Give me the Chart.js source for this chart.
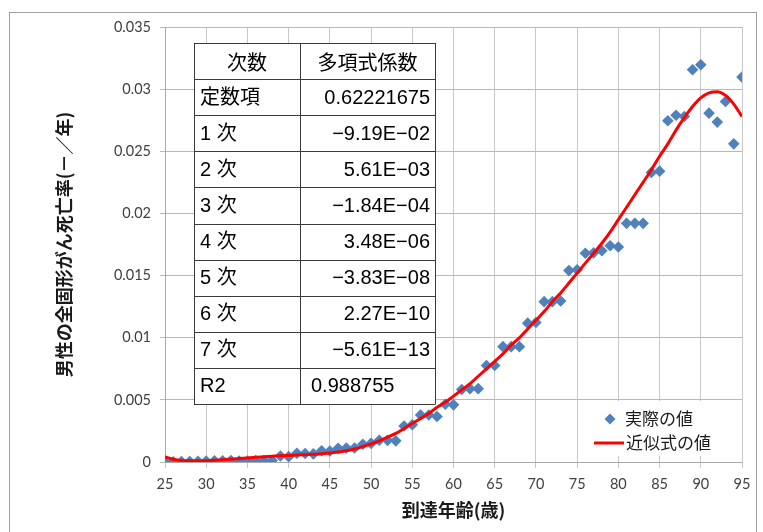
<!DOCTYPE html>
<html>
<head>
<meta charset="utf-8">
<script src="https://cdn.jsdelivr.net/npm/chart.js@4"></script>
<style>
  html, body { margin: 0; padding: 0; background: #ffffff; }
  #wrap { width: 763px; height: 532px; }
</style>
</head>
<body>
<div id="wrap"><canvas id="c" width="763" height="532"></canvas></div>
<script>
// 到達年齢 (歳)
const ages = [25, 26, 27, 28, 29, 30, 31, 32, 33, 34, 35, 36, 37, 38, 39, 40,
  41, 42, 43, 44, 45, 46, 47, 48, 49, 50, 51, 52, 53, 54, 55, 56, 57, 58, 59, 60,
  61, 62, 63, 64, 65, 66, 67, 68, 69, 70, 71, 72, 73, 74, 75, 76, 77, 78, 79, 80,
  81, 82, 83, 84, 85, 86, 87, 88, 89, 90, 91, 92, 93, 94, 95];

// 実際の値: 男性の全固形がん死亡率 (－/年)
const actualRates = [0.00002, 0.00002, 0.00003, 0.00004, 0.00005, 0.00007, 0.0001, 0.0001,
  0.00012, 0.00008, 0.00008, 0.00011, 0.00012, 0.00012, 0.00048, 0.00043,
  0.0007, 0.00068, 0.00065, 0.0009, 0.00089, 0.0011, 0.00113, 0.00113, 0.00143, 0.0015,
  0.00175, 0.00174, 0.0017, 0.0029, 0.003, 0.00378, 0.00378, 0.00366, 0.00465, 0.0046,
  0.00583, 0.0059, 0.0059, 0.00777, 0.00777, 0.00928, 0.00928, 0.00928, 0.01117, 0.01122,
  0.0129, 0.0129, 0.01296, 0.0154, 0.01546, 0.0168, 0.01683, 0.0170, 0.0174, 0.0173,
  0.0192, 0.0192, 0.0192, 0.0233, 0.0234, 0.02746, 0.0279, 0.0278, 0.03156, 0.03196,
  0.02807, 0.02735, 0.0290, 0.0256, 0.03097];

// 近似式の値 (7次多項式)
const fittedRates = [0.0004, 0.00022, 0.00012, 0.0001, 0.0001, 0.00011, 0.00014, 0.00018,
  0.00023, 0.00028, 0.00033, 0.00038, 0.00042, 0.00046, 0.0005, 0.00053,
  0.00056, 0.00059, 0.00062, 0.00067, 0.00072, 0.0008, 0.0009, 0.00105, 0.00125, 0.00145,
  0.0017, 0.002, 0.0023, 0.0027, 0.0031, 0.0035, 0.0039, 0.0044, 0.0048, 0.0053,
  0.0058, 0.0063, 0.0069, 0.0075, 0.0081, 0.0087, 0.0094, 0.0100, 0.0107, 0.0114,
  0.0121, 0.0129, 0.0136, 0.0144, 0.0152, 0.0160, 0.0168, 0.0176, 0.0185, 0.0195,
  0.0205, 0.0215, 0.0225, 0.0235, 0.0246, 0.0256, 0.0267, 0.0277, 0.0286, 0.0293,
  0.0297, 0.0298, 0.0295, 0.0288, 0.0278];

const xTickValues = [25, 30, 35, 40, 45, 50, 55, 60, 65, 70, 75, 80, 85, 90, 95];
const yTickValues = [0, 0.005, 0.01, 0.015, 0.02, 0.025, 0.03, 0.035];
const yTickLabels = ['0', '0.005', '0.01', '0.015', '0.02', '0.025', '0.03', '0.035'];

// 係数表
const tableHeader = ['次数', '多項式係数'];
const termLabels = ['定数項', '1 次', '2 次', '3 次', '4 次', '5 次', '6 次', '7 次'];
const coefficientTexts = ['0.62221675', '−9.19E−02', '5.61E−03', '−1.84E−04',
  '3.48E−06', '−3.83E−08', '2.27E−10', '−5.61E−13'];
const r2Label = 'R2';
const r2Text = '0.988755';

const CJK = "'Noto Sans CJK JP', sans-serif";
const NUM = "'Liberation Sans', 'Noto Sans CJK JP', sans-serif";

// 外枠
const framePlugin = {
  id: 'frame',
  afterDraw(chart) {
    const ctx = chart.ctx;
    ctx.save();
    ctx.strokeStyle = '#a0a0a0';
    ctx.lineWidth = 1;
    ctx.strokeRect(9.5, 12.5, 747, 530);
    ctx.restore();
  }
};

// 係数表
const tablePlugin = {
  id: 'coefTable',
  afterDraw(chart) {
    const ctx = chart.ctx;
    const left = 194, mid = 300, right = 435, top = 43, rowH = 36.1;
    const rows = 2 + termLabels.length;
    const bottom = top + rows * rowH;
    ctx.save();
    ctx.fillStyle = '#ffffff';
    ctx.fillRect(left, top, right - left, bottom - top);
    ctx.strokeStyle = '#3a3a3a';
    ctx.lineWidth = 1;
    for (let i = 0; i <= rows; i++) {
      const y = Math.round(top + i * rowH) + 0.5;
      ctx.beginPath(); ctx.moveTo(left, y); ctx.lineTo(right, y); ctx.stroke();
    }
    [left, mid, right].forEach(x => {
      ctx.beginPath(); ctx.moveTo(x + 0.5, top); ctx.lineTo(x + 0.5, Math.round(bottom) + 0.5); ctx.stroke();
    });
    ctx.fillStyle = '#000000';
    ctx.textBaseline = 'middle';
    const cy = i => top + (i + 0.5) * rowH + 1;
    ctx.font = '20px ' + CJK;
    ctx.textAlign = 'center';
    ctx.fillText(tableHeader[0], (left + mid) / 2, cy(0));
    ctx.fillText(tableHeader[1], (mid + right) / 2, cy(0));
    termLabels.forEach((t, i) => {
      ctx.textAlign = 'left';
      ctx.font = '20px ' + NUM;
      ctx.fillText(t, left + 6, cy(i + 1));
      ctx.textAlign = 'right';
      ctx.fillText(coefficientTexts[i], right - 5, cy(i + 1));
    });
    ctx.textAlign = 'left';
    ctx.fillText(r2Label, left + 6, cy(rows - 1));
    ctx.fillText(r2Text, mid + 11, cy(rows - 1));
    ctx.restore();
  }
};

// 凡例 (プロット内右下)
const legendPlugin = {
  id: 'innerLegend',
  afterDraw(chart) {
    const ctx = chart.ctx;
    const ds = chart.data.datasets;
    ctx.save();
    ctx.fillStyle = '#ffffff';
    ctx.fillRect(588, 401, 153, 55);
    ctx.font = '17px ' + CJK;
    ctx.textBaseline = 'middle';
    ctx.textAlign = 'left';
    // 実際の値
    const mx = 610, my = 419, r = 5.5;
    ctx.fillStyle = ds[0].backgroundColor;
    ctx.beginPath();
    ctx.moveTo(mx, my - r); ctx.lineTo(mx + r, my); ctx.lineTo(mx, my + r); ctx.lineTo(mx - r, my);
    ctx.closePath(); ctx.fill();
    ctx.fillStyle = '#1a1a1a';
    ctx.fillText(ds[0].label, 625, my);
    // 近似式の値
    const ly = 443;
    ctx.strokeStyle = ds[1].borderColor;
    ctx.lineWidth = ds[1].borderWidth;
    ctx.beginPath(); ctx.moveTo(594, ly); ctx.lineTo(624, ly); ctx.stroke();
    ctx.fillText(ds[1].label, 626, ly);
    ctx.restore();
  }
};

new Chart(document.getElementById('c'), {
  type: 'scatter',
  data: {
    datasets: [
      {
        label: '実際の値',
        data: ages.map((a, i) => ({ x: a, y: actualRates[i] })),
        pointStyle: 'rectRot',
        pointRadius: 5.8,
        pointHoverRadius: 5.8,
        backgroundColor: '#4f81bd',
        borderColor: '#4f81bd',
        borderWidth: 0,
        order: 1
      },
      {
        label: '近似式の値',
        type: 'line',
        data: ages.map((a, i) => ({ x: a, y: fittedRates[i] })),
        borderColor: '#ff0000',
        backgroundColor: '#ff0000',
        borderWidth: 3,
        pointRadius: 0,
        cubicInterpolationMode: 'monotone',
        fill: false,
        order: 0
      }
    ]
  },
  options: {
    responsive: false,
    animation: false,
    devicePixelRatio: 1,
    layout: { padding: { top: 27, right: 21, bottom: 0, left: 0 } },
    plugins: { legend: { display: false }, tooltip: { enabled: false } },
    scales: {
      x: {
        type: 'linear',
        min: 25,
        max: 95,
        afterBuildTicks: s => { s.ticks = xTickValues.map(v => ({ value: v })); },
        afterFit: s => { s.height = 70; },
        grid: { color: '#c8c8c8', lineWidth: 1, tickLength: 6 },
        border: { color: '#a8a8a8' },
        ticks: {
          font: { family: 'Lato', size: 14.5 },
          color: '#404040',
          padding: 8,
          maxRotation: 0,
          autoSkip: false
        },
        title: {
          display: true,
          text: '到達年齢(歳)',
          font: { family: 'Noto Sans CJK JP', size: 18, weight: 'bold' },
          color: '#1a1a1a',
          padding: { top: 0, bottom: 11 }
        }
      },
      y: {
        min: 0,
        max: 0.035,
        afterBuildTicks: s => { s.ticks = yTickValues.map(v => ({ value: v })); },
        afterFit: s => { s.width = 165; },
        grid: { color: '#b8b8b8', lineWidth: 1, tickLength: 5 },
        border: { color: '#a8a8a8' },
        ticks: {
          font: { family: 'Lato', size: 14.5 },
          color: '#404040',
          padding: 9,
          callback: (v, i) => yTickLabels[i]
        },
        title: {
          display: true,
          text: '男性の全固形がん死亡率(－／年)',
          font: { family: 'Noto Sans CJK JP', size: 18, weight: 'bold' },
          color: '#1a1a1a',
          padding: { top: 53, bottom: 0 }
        }
      }
    }
  },
  plugins: [framePlugin, tablePlugin, legendPlugin]
});
</script>
</body>
</html>
